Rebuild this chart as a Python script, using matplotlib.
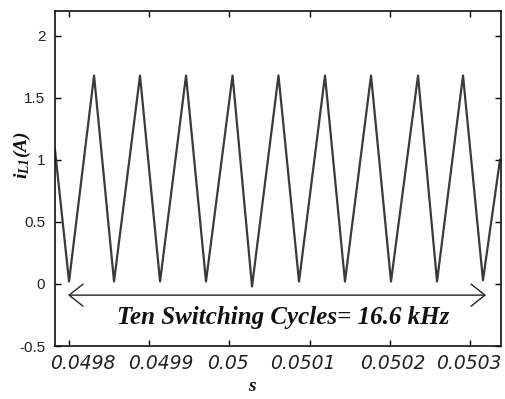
#
# plot.py
#   - Inductor current i_L1 over ten switching cycles.
#

import matplotlib
matplotlib.use("Agg")
import matplotlib.pyplot as plt
from matplotlib.transforms import ScaledTranslation

# corner points of the triangular current waveform
time_s = [0.0497825, 0.0498000, 0.0498312, 0.0498561, 0.0498885, 0.0499135,
          0.0499459, 0.0499708, 0.0500039, 0.0500282, 0.0500612, 0.0500868,
          0.0501192, 0.0501441, 0.0501766, 0.0502015, 0.0502352, 0.0502589,
          0.0502913, 0.0503162, 0.0503374]
current_a = [1.08, 0.02, 1.68, 0.02, 1.68, 0.02, 1.68, 0.02, 1.68, -0.02,
             1.68, 0.02, 1.68, 0.02, 1.68, 0.02, 1.68, 0.02, 1.68, 0.03, 1.00]

x_ticks = [0.0498, 0.0499, 0.0500, 0.0501, 0.0502, 0.0503]
x_tick_labels = ["0.0498", "0.0499", "0.05", "0.0501", "0.0502", "0.0503"]
y_ticks = [-0.5, 0, 0.5, 1, 1.5, 2]
y_tick_labels = ["-0.5", "0", "0.5", "1", "1.5", "2"]

arrow_start = (0.0497988, -0.09)
arrow_end = (0.0503200, -0.09)
note_pos = (0.0500668, -0.27)
note_text = "Ten Switching Cycles= 16.6 kHz"


def main():
    plt.rcParams["mathtext.fontset"] = "custom"
    plt.rcParams["mathtext.it"] = "Liberation Serif:bold:italic"
    plt.rcParams["mathtext.rm"] = "Liberation Serif:bold:italic"
    plt.rcParams["mathtext.bf"] = "Liberation Serif:bold:italic"

    fig = plt.figure(figsize=(5.06, 3.99), dpi=100)
    ax = fig.add_axes([0.1087, 0.1328, 0.8813, 0.8396])

    ax.plot(time_s, current_a, color="#3a3a3a", lw=1.6)

    ax.set_xlim(0.0497825, 0.0503386)
    ax.set_ylim(-0.5, 2.2)

    ax.set_xticks(x_ticks)
    ax.set_xticklabels(x_tick_labels, family="DejaVu Sans", style="italic",
                       fontsize=13.5, color="#222222")
    ax.set_yticks(y_ticks)
    ax.set_yticklabels(y_tick_labels, family="Liberation Sans",
                       fontsize=11, color="#222222")
    ax.tick_params(direction="in", top=True, right=True, length=4,
                   width=1, color="black")
    ax.tick_params(axis="y", pad=7)
    ax.tick_params(axis="x", pad=6)

    # the x labels in the original sit a little off their ticks
    shifts = [14, 12, -2, -7, 3, -1]
    for label, dx in zip(ax.get_xticklabels(), shifts):
        label.set_transform(label.get_transform()
                            + ScaledTranslation(dx / 100, 0, fig.dpi_scale_trans))

    for spine in ax.spines.values():
        spine.set_linewidth(1.2)
        spine.set_color("#111111")

    ax.annotate("", xy=arrow_end, xytext=arrow_start,
                arrowprops=dict(arrowstyle="<->,head_length=0.5,head_width=0.4",
                                color="#222222", lw=1.0, mutation_scale=20,
                                shrinkA=0, shrinkB=0))
    ax.text(note_pos[0], note_pos[1], note_text, ha="center", va="center",
            family="Liberation Serif", weight="bold", style="italic",
            fontsize=18, color="#111111")

    ax.text(-0.072, 0.57, r"$i_{L1}(A)$", transform=ax.transAxes,
            rotation=90, ha="center", va="center", fontsize=14,
            color="#111111")
    ax.text(0.442, -0.12, "s", transform=ax.transAxes, ha="center",
            va="center", family="Liberation Serif", weight="bold",
            style="italic", fontsize=14, color="#111111")

    fig.savefig("out.png", dpi=100)


if __name__ == '__main__':
    main()
